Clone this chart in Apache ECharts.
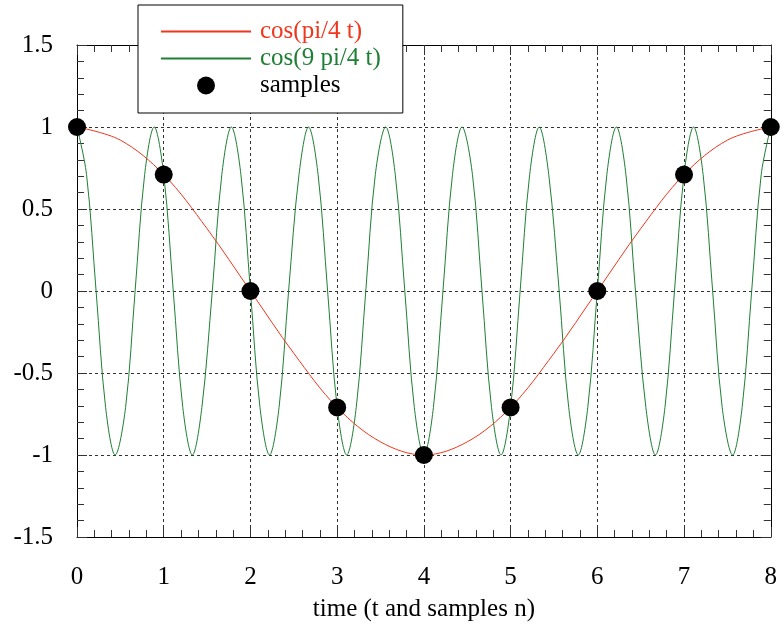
<!DOCTYPE html>
<html>
<head>
<meta charset="utf-8">
<script src="https://cdn.jsdelivr.net/npm/echarts@6/dist/echarts.min.js"></script>
<style>
  html, body { margin: 0; padding: 0; background: #fff; }
  #chart { width: 780px; height: 627px; }
</style>
</head>
<body>
<div id="chart"></div>
<script>
// slow cosine, read every half unit of t
const slowT = [0, 0.5, 1, 1.5, 2, 2.5, 3, 3.5, 4, 4.5, 5, 5.5, 6, 6.5, 7, 7.5, 8]
const slowY = [1, 0.92, 0.71, 0.38, 0, -0.38, -0.71, -0.92, -1, -0.92, -0.71, -0.38, 0, 0.38, 0.71, 0.92, 1]

// fast cosine, read at eighths of its period (peaks, troughs, crossings)
const fastT = [
  0, 0.11, 0.22, 0.33, 0.44, 0.56, 0.67, 0.78,
  0.89, 1.0, 1.11, 1.22, 1.33, 1.44, 1.56, 1.67,
  1.78, 1.89, 2.0, 2.11, 2.22, 2.33, 2.44, 2.56,
  2.67, 2.78, 2.89, 3.0, 3.11, 3.22, 3.33, 3.44,
  3.56, 3.67, 3.78, 3.89, 4.0, 4.11, 4.22, 4.33,
  4.44, 4.56, 4.67, 4.78, 4.89, 5.0, 5.11, 5.22,
  5.33, 5.44, 5.56, 5.67, 5.78, 5.89, 6.0, 6.11,
  6.22, 6.33, 6.44, 6.56, 6.67, 6.78, 6.89, 7.0,
  7.11, 7.22, 7.33, 7.44, 7.56, 7.67, 7.78, 7.89,
  8.0,
]
const fastY = [
  1, 0.71, 0, -0.71, -1, -0.71, 0, 0.71,
  1, 0.71, 0, -0.71, -1, -0.71, 0, 0.71,
  1, 0.71, 0, -0.71, -1, -0.71, 0, 0.71,
  1, 0.71, 0, -0.71, -1, -0.71, 0, 0.71,
  1, 0.71, 0, -0.71, -1, -0.71, 0, 0.71,
  1, 0.71, 0, -0.71, -1, -0.71, 0, 0.71,
  1, 0.71, 0, -0.71, -1, -0.71, 0, 0.71,
  1, 0.71, 0, -0.71, -1, -0.71, 0, 0.71,
  1, 0.71, 0, -0.71, -1, -0.71, 0, 0.71,
  1,
]

// samples n = 0..8
const sampleN = [0, 1, 2, 3, 4, 5, 6, 7, 8]
const sampleY = [1, 0.71, 0, -0.71, -1, -0.71, 0, 0.71, 1]

const redColor = '#f0361c'
const greenColor = '#1f7f34'
const font = 'Liberation Serif'
const fontSize = 25

const pairs = (xs, ys) => xs.map((x, i) => [x, ys[i]])

const tickStyle = { color: '#333', width: 1 }

const makeX = (pos, labels) => ({
  type: 'value',
  position: pos,
  min: 0,
  max: 8,
  interval: 1,
  axisLine: { show: true, onZero: false, lineStyle: { color: '#000', width: 1 } },
  axisTick: { show: true, inside: true, length: 10, lineStyle: tickStyle },
  minorTick: { show: true, splitNumber: 5, length: 7, lineStyle: tickStyle },
  axisLabel: { show: labels, color: '#000', fontFamily: font, fontSize: fontSize, margin: 28 },
  splitLine: { show: labels, lineStyle: { color: '#333', type: [3, 3], width: 1 } },
})

const makeY = (pos, labels) => ({
  type: 'value',
  position: pos,
  min: -1.5,
  max: 1.5,
  interval: 0.5,
  axisLine: { show: true, onZero: false, lineStyle: { color: '#000', width: 1 } },
  axisTick: { show: true, inside: true, length: 10, lineStyle: tickStyle },
  minorTick: { show: true, splitNumber: 5, length: 7, lineStyle: tickStyle },
  axisLabel: { show: labels, color: '#000', fontFamily: font, fontSize: fontSize, margin: 24 },
  splitLine: { show: labels, lineStyle: { color: '#333', type: [3, 3], width: 1 } },
})

const chart = echarts.init(document.getElementById('chart'))

const bottomX = makeX('bottom', true)
bottomX.name = 'time (t and samples n)'
bottomX.nameLocation = 'middle'
bottomX.nameGap = 60
bottomX.nameTextStyle = { color: '#000', fontFamily: font, fontSize: fontSize }

const option = {
  animation: false,
  backgroundColor: '#fff',
  grid: { left: 77, right: 9, top: 45, bottom: 89, containLabel: false },
  xAxis: [bottomX, makeX('top', false)],
  yAxis: [makeY('left', true), makeY('right', false)],
  legend: {
    orient: 'vertical',
    left: 138,
    top: 5,
    itemWidth: 90,
    itemHeight: 18,
    itemGap: 2,
    padding: [14, 22, 15, 22],
    backgroundColor: '#fff',
    borderColor: '#000',
    borderWidth: 1,
    borderRadius: 0,
    textStyle: { fontFamily: font, fontSize: fontSize, color: '#000', padding: [0, 0, 0, 4] },
    data: [
      { name: 'cos(pi/4 t)', itemStyle: { opacity: 0 }, textStyle: { color: redColor } },
      { name: 'cos(9 pi/4 t)', itemStyle: { opacity: 0 }, textStyle: { color: greenColor } },
      { name: 'samples', textStyle: { color: '#000' } },
    ],
  },
  series: [
    {
      name: 'cos(pi/4 t)',
      type: 'line',
      data: pairs(slowT, slowY),
      smooth: 0.35,
      symbol: 'none',
      color: redColor,
      lineStyle: { color: redColor, width: 1 },
      z: 3,
    },
    {
      name: 'cos(9 pi/4 t)',
      type: 'line',
      data: pairs(fastT, fastY),
      smooth: 0.35,
      symbol: 'none',
      color: greenColor,
      lineStyle: { color: greenColor, width: 1 },
      z: 2,
    },
    {
      name: 'samples',
      type: 'scatter',
      data: pairs(sampleN, sampleY),
      symbol: 'circle',
      symbolSize: 18,
      itemStyle: { color: '#000', opacity: 1 },
      z: 5,
    },
  ],
}

chart.setOption(option)
</script>
</body>
</html>
